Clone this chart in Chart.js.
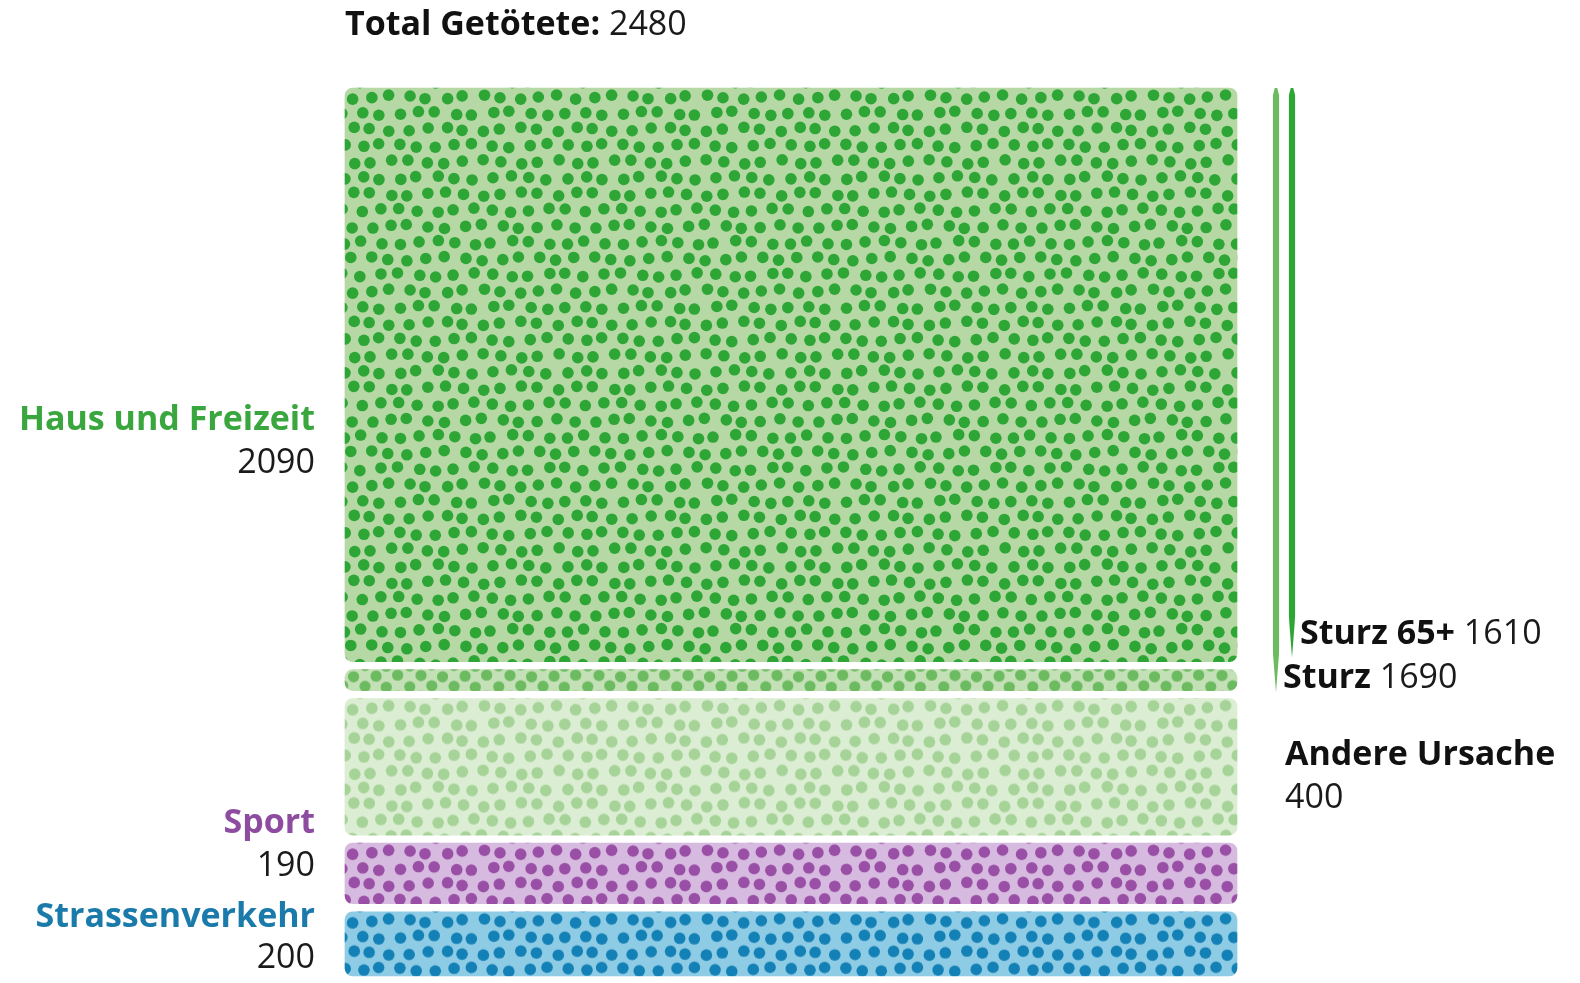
<!DOCTYPE html>
<html>
<head>
<meta charset="utf-8">
<script src="https://cdn.jsdelivr.net/npm/chart.js@4/dist/chart.umd.min.js"></script>
<style>
  body { margin: 0; background: #fff; }
  canvas { display: block; }
</style>
</head>
<body>
<canvas id="myChart" width="1580" height="983"></canvas>
<script>
// segments of the stacked bar, bottom to top
const segments = ['Strassenverkehr', 'Sport', 'Andere Ursache', 'Sturz (übrige)', 'Sturz 65+'];
const segmentValues = [200, 190, 400, 80, 1610];
const total = 2480;

// groups written on the left
const groupNames = ['Haus und Freizeit', 'Sport', 'Strassenverkehr'];
const groupValues = [2090, 190, 200];

// brackets on the right
const bracketNames = ['Sturz 65+', 'Sturz'];
const bracketValues = [1610, 1690];

const bgColors  = ['#8ecbe5', '#d7badf', '#dbedd2', '#c4e0b6', '#b5d8a4'];
const dotColors = ['#1481b6', '#9a4fa6', '#a6d397', '#6cbb60', '#2ea636'];

function dotPattern(bg, dot, s, rh, cols, rows, r, jit) {
    const W = Math.round(s * cols), H = Math.round(rh * rows);
    s = W / cols; rh = H / rows;
    const c = document.createElement('canvas');
    c.width = W; c.height = H;
    const g = c.getContext('2d');
    g.fillStyle = bg;
    g.fillRect(0, 0, W, H);
    g.fillStyle = dot;
    for (let i = 0; i < rows; i++) {
        for (let j = 0; j < cols; j++) {
            const jx = jit * Math.sin(i * 12.9898 + j * 78.233 + Math.sin(i * j));
            const jy = jit * Math.sin(i * 39.346 + j * 11.135 + 1.7);
            const x = j * s + (i % 2 ? s / 2 : 0) + s / 4 + jx;
            const y = i * rh + rh / 2 + jy;
            for (const dx of [-W, 0, W]) {
                for (const dy of [-H, 0, H]) {
                    g.beginPath();
                    g.arc(x + dx, y + dy, r, 0, Math.PI * 2);
                    g.fill();
                }
            }
        }
    }
    return g.createPattern(c, 'repeat');
}

const ctx = document.getElementById('myChart').getContext('2d');
const patterns = segments.map((s, i) => {
    if (i === 3) return dotPattern(bgColors[i], dotColors[i], 22.25, 10.5, 4, 2, 5.6, 0.8);
    return dotPattern(bgColors[i], dotColors[i], 18.6, 16.2, 12, 12, 5.8, 2.1);
});

// anchor each pattern to the top of its own bar
const anchorPatterns = {
    id: 'anchorPatterns',
    beforeDatasetsDraw(chart) {
        chart.data.datasets.forEach((ds, i) => {
            const bar = chart.getDatasetMeta(i).data[0];
            if (!bar) return;
            const top = Math.min(bar.y, bar.base) + 4;
            patterns[i].setTransform(new DOMMatrix([1, 0, 0, 1, 348, top + 1]));
        });
    }
};

const FS = 34;
function textPair(c, x, y, bold, normal, color, align) {
    c.textBaseline = 'middle';
    c.font = 'bold ' + FS + 'px "Open Sans"';
    const wb = c.measureText(bold).width;
    c.font = FS + 'px "Open Sans"';
    const wn = normal ? c.measureText(normal).width : 0;
    let x0 = x;
    if (align === 'right') x0 = x - wb - wn;
    c.font = 'bold ' + FS + 'px "Open Sans"';
    c.fillStyle = color;
    c.textAlign = 'left';
    c.fillText(bold, x0, y);
    if (normal) {
        c.font = FS + 'px "Open Sans"';
        c.fillStyle = '#1a1a1a';
        c.fillText(normal, x0 + wb, y);
    }
}

function taperLine(c, x, y0, y1, color) {
    const pts = [];
    const n = 80;
    for (let k = 0; k <= n; k++) {
        const y = y0 + (y1 - y0) * k / n;
        const hw = 3.1 * Math.min(1, (y - y0) / 6 + 0.4, (y1 - y) / 40);
        pts.push([y, Math.max(hw, 0)]);
    }
    c.beginPath();
    pts.forEach(([y, hw], k) => k ? c.lineTo(x - hw, y) : c.moveTo(x - hw, y));
    pts.slice().reverse().forEach(([y, hw]) => c.lineTo(x + hw, y));
    c.closePath();
    c.fillStyle = color;
    c.fill();
}

const labelsPlugin = {
    id: 'labelsPlugin',
    afterDraw(chart) {
        const c = chart.ctx;
        const y = chart.scales.y;
        c.save();
        textPair(c, 345, 25, 'Total Getötete:', ' ' + total, '#111', 'left');

        // left group labels
        textPair(c, 315, 420, groupNames[0], '', '#3aa63e', 'right');
        textPair(c, 315, 463, '', '' + groupValues[0], '#111', 'right');
        textPair(c, 315, 823, groupNames[1], '', '#8e4ca0', 'right');
        textPair(c, 315, 866, '', '' + groupValues[1], '#111', 'right');
        textPair(c, 315, 917, groupNames[2], '', '#1a7bab', 'right');
        textPair(c, 315, 958, '', '' + groupValues[2], '#111', 'right');

        // brackets
        const yTop = y.getPixelForValue(total) + 4;
        taperLine(c, 1276, yTop, y.getPixelForValue(total - bracketValues[1]) - 2, '#6cbb60');
        taperLine(c, 1292, yTop, y.getPixelForValue(total - bracketValues[0]) - 8, '#2ea636');

        textPair(c, 1300, 634, bracketNames[0] + ' ', '' + bracketValues[0], '#111', 'left');
        textPair(c, 1283, 678, bracketNames[1] + ' ', '' + bracketValues[1], '#111', 'left');
        textPair(c, 1285, 755, segments[2], '', '#111', 'left');
        textPair(c, 1285, 798, '', '' + segmentValues[2], '#111', 'left');
        c.restore();
    }
};

new Chart(ctx, {
    type: 'bar',
    data: {
        labels: ['Total'],
        datasets: segments.map((name, i) => ({
            label: name,
            data: [segmentValues[i]],
            backgroundColor: patterns[i],
            borderColor: '#ffffff',
            borderWidth: 4,
            borderSkipped: false,
            borderRadius: {topLeft: 12, topRight: 12, bottomLeft: 12, bottomRight: 12},
            barPercentage: 1,
            categoryPercentage: 1
        }))
    },
    options: {
        responsive: false,
        animation: false,
        devicePixelRatio: 1,
        layout: {padding: {left: 341, right: 339, top: 84, bottom: 3}},
        plugins: {legend: {display: false}, tooltip: {enabled: false}},
        scales: {
            x: {stacked: true, display: false},
            y: {stacked: true, display: false, min: 0, max: total}
        }
    },
    plugins: [anchorPatterns, labelsPlugin]
});
</script>
</body>
</html>
